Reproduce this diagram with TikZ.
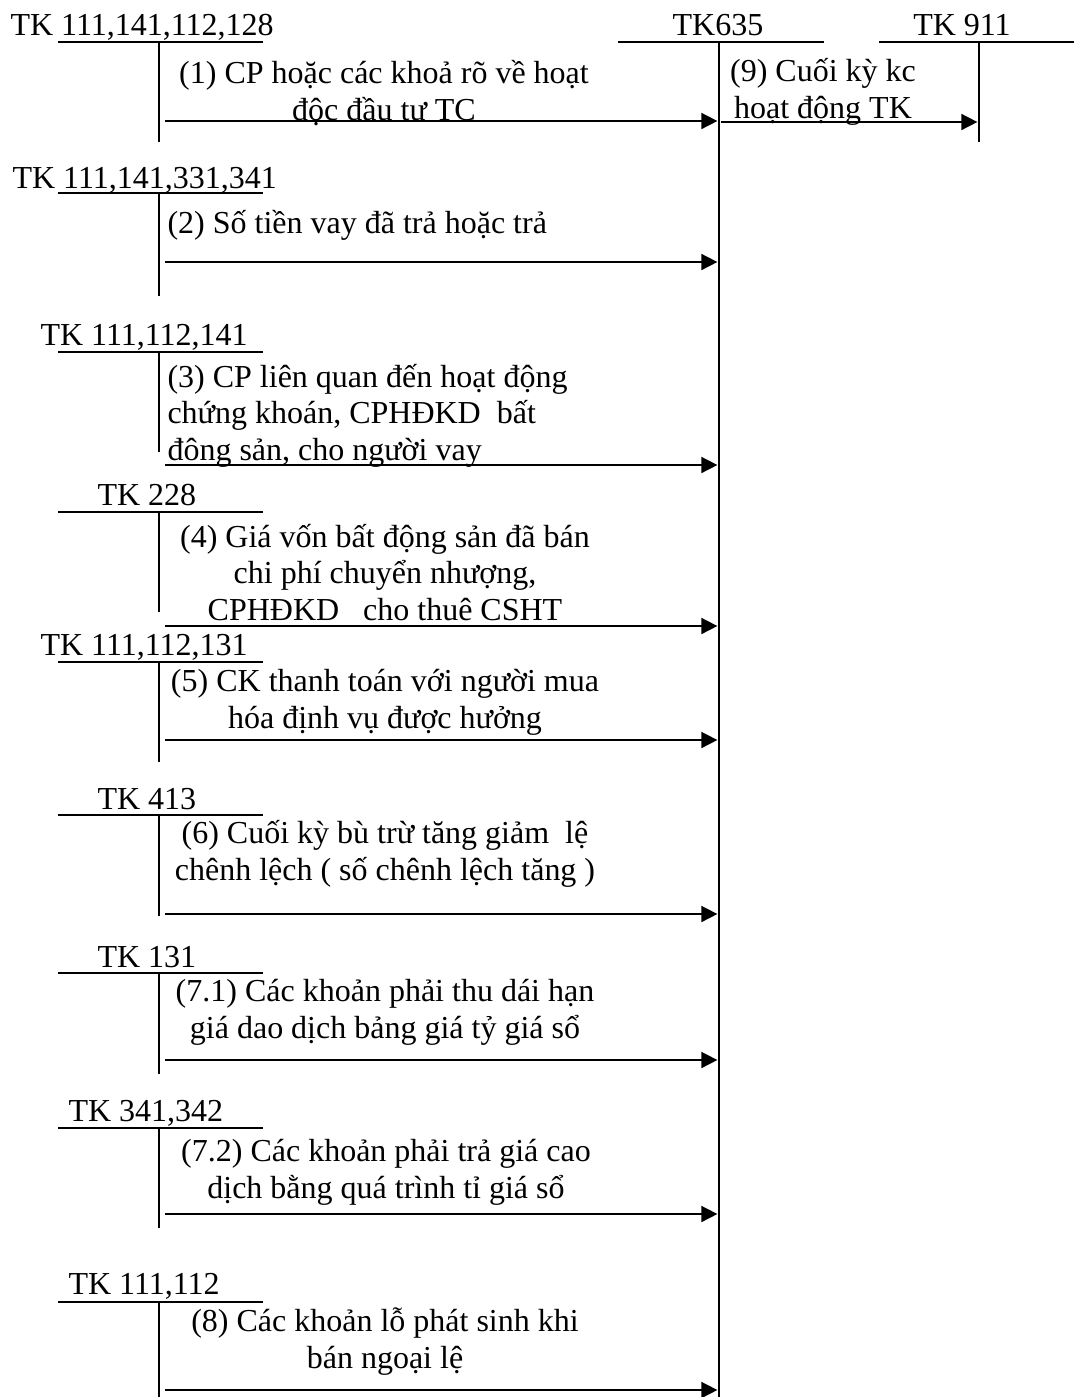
\documentclass[tikz,border=0pt]{standalone}
\usepackage{fontspec}
\setmainfont{Liberation Serif}
\usetikzlibrary{arrows.meta,positioning,calc}
\tikzset{
  tk/.style={inner sep=0pt, anchor=base west, font=\fontsize{12}{13.6}\selectfont},
  note/.style={inner sep=0pt, align=center, anchor=base, font=\fontsize{12}{13.6}\selectfont},
  notel/.style={note, align=left, anchor=base west},
  acc/.style={line width=0.6pt},
  flow/.style={-{Triangle[length=6pt,width=6pt]}, line width=0.6pt, shorten >=0.6pt},
}
% T-account: name, left, right, stem x, top y, bottom y
\newcommand{\Tacc}[6]{%
  \draw[acc] (#2,#5) -- (#3,#5);
  \draw[acc] (#4,#5) coordinate (#1) -- (#4,#6) coordinate (#1b);}

\begin{document}
\begin{tikzpicture}[x=0.375pt, y=-0.375pt]
  \useasboundingbox (0,0) rectangle (1074,1397);
  % accounts
  \node[tk] (tk1) at (10,35) {TK 111,141,112,128};
  \node[tk] (tk2) at (12,188) {TK 111,141,331,341};
  \node[tk] (tk3) at (40,345) {TK 111,112,141};
  \node[tk] (tk4) at (97,505) {TK 228};
  \node[tk] (tk5) at (40,655) {TK 111,112,131};
  \node[tk] (tk6) at (97,809) {TK 413};
  \node[tk] (tk71) at (97,967) {TK 131};
  \node[tk] (tk72) at (68,1121) {TK 341,342};
  \node[tk] (tk8) at (68,1294) {TK 111,112};
  \node[tk, anchor=base] (tk635) at (718,35) {TK635};
  \node[tk, anchor=base] (tk911) at (962,35) {TK 911};
  \Tacc{a1}{58}{263}{159}{42}{142}
  \Tacc{a2}{58}{263}{159}{193}{296}
  \Tacc{a3}{58}{263}{159}{352}{452}
  \Tacc{a4}{58}{263}{159}{512}{612}
  \Tacc{a5}{58}{263}{159}{662}{762}
  \Tacc{a6}{58}{263}{159}{815}{916}
  \Tacc{a71}{58}{263}{159}{973}{1074}
  \Tacc{a72}{58}{263}{159}{1128}{1228}
  \Tacc{a8}{58}{263}{159}{1302}{1397}
  \Tacc{k635}{618}{824}{719}{42}{1397}
  \Tacc{k911}{879}{1074}{979}{42}{142}
  % entries (base = last line)
  \node[note] (n1) at (384,120) {(1) CP hoặc các khoả rõ về hoạt\\độc đầu tư TC};
  \node[notel] (n2) at (167,233) {(2) Số tiền vay đã trả hoặc trả};
  \node[notel] (n3) at (167,460) {(3) CP liên quan đến hoạt động\\chứng khoán, CPHĐKD\ \ bất\\đông sản, cho người vay};
  \node[note] (n4) at (385,620) {(4) Giá vốn bất động sản đã bán\\chi phí chuyển nhượng,\\CPHĐKD\ \ \ cho thuê CSHT};
  \node[note] (n5) at (385,728) {(5) CK thanh toán với người mua\\hóa định vụ được hưởng};
  \node[note] (n6) at (385,880) {(6) Cuối kỳ bù trừ tăng giảm\ \ lệ\\chênh lệch ( số chênh lệch tăng )};
  \node[note] (n71) at (385,1038) {(7.1) Các khoản phải thu dái hạn\\giá dao dịch bảng giá tỷ giá sổ};
  \node[note] (n72) at (386,1198) {(7.2) Các khoản phải trả giá cao\\dịch bằng quá trình tỉ giá sổ};
  \node[note] (n8) at (385,1368) {(8) Các khoản lỗ phát sinh khi\\bán ngoại lệ};
  \node[note] (n9) at (823,118) {(9) Cuối kỳ kc\\hoạt động TK};
  \coordinate (s1) at (165,121);
  \coordinate (s2) at (165,262);
  \coordinate (s3) at (165,465);
  \coordinate (s4) at (165,626);
  \coordinate (s5) at (165,740);
  \coordinate (s6) at (165,914);
  \coordinate (s71) at (165,1060);
  \coordinate (s72) at (165,1214);
  \coordinate (s8) at (165,1390);
  \coordinate (s9) at (721,122);
  \foreach \s in {s1,s2,s3,s4,s5,s6,s71,s72,s8}
    \draw[flow] (\s) -- (\s -| k635);
  \draw[flow] (s9) -- (s9 -| k911);
\end{tikzpicture}
\end{document}
